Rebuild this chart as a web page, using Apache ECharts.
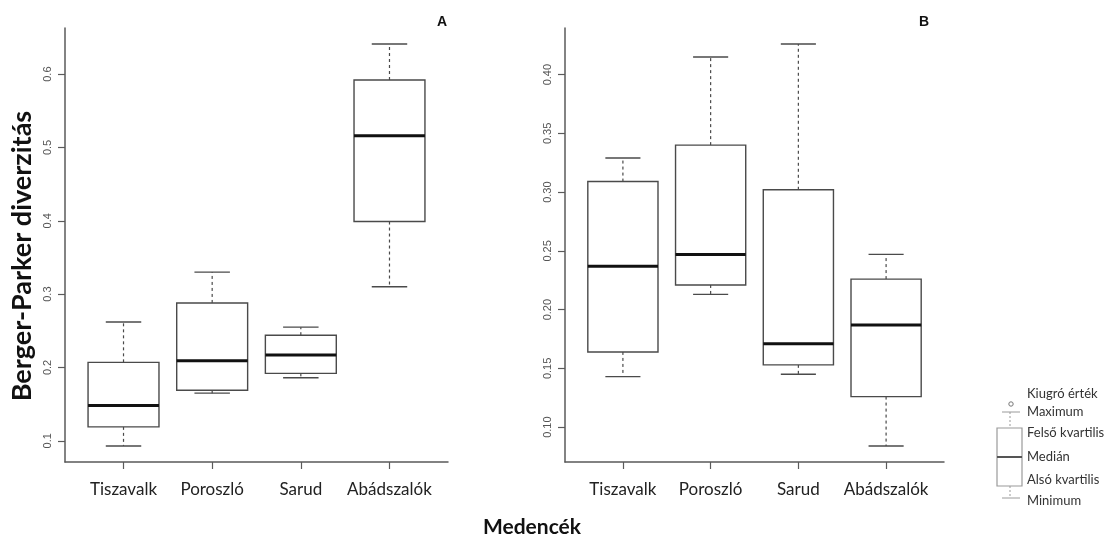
<!DOCTYPE html>
<html>
<head>
<meta charset="utf-8">
<script src="https://cdn.jsdelivr.net/npm/echarts@6/dist/echarts.min.js"></script>
<style>
  html, body { margin: 0; padding: 0; background: #fff; }
  #chart { width: 1106px; height: 537px; }
</style>
</head>
<body>
<div id="chart"></div>
<script>
// Basins (x categories)
const categories = ['Tiszavalk', 'Poroszló', 'Sarud', 'Abádszalók'];

// Panel A: Berger-Parker diversity five-number summaries [min, Q1, median, Q3, max]
const statsA = [
  [0.093, 0.119, 0.148, 0.207, 0.262],
  [0.165, 0.169, 0.209, 0.288, 0.330],
  [0.186, 0.192, 0.217, 0.244, 0.255],
  [0.310, 0.399, 0.516, 0.592, 0.641]
];

// Panel B: five-number summaries [min, Q1, median, Q3, max]
const statsB = [
  [0.143, 0.164, 0.237, 0.309, 0.329],
  [0.213, 0.221, 0.247, 0.340, 0.415],
  [0.145, 0.153, 0.171, 0.302, 0.426],
  [0.084, 0.126, 0.187, 0.226, 0.247]
];

// Tick values on the y axes
const ticksA = [0.1, 0.2, 0.3, 0.4, 0.5, 0.6];
const ticksB = [0.10, 0.15, 0.20, 0.25, 0.30, 0.35, 0.40];

// Legend entries for the box symbol
const legendLabels = ['Kiugró érték', 'Maximum', 'Felső kvartilis', 'Medián', 'Alsó kvartilis', 'Minimum'];

const positions = categories.map((_, i) => i + 1);

// R-style axis extent: data range padded by 4% on each side
function paddedRange(stats) {
  let lo = Infinity, hi = -Infinity;
  stats.forEach(s => { lo = Math.min(lo, s[0]); hi = Math.max(hi, s[4]); });
  const pad = (hi - lo) * 0.04;
  return [lo - pad, hi + pad];
}
const rangeA = paddedRange(statsA);
const rangeB = paddedRange(statsB);

const AXIS_COLOR = '#5a5a5a';
const BOX_COLOR = '#4a4a4a';

function renderBox(params, api) {
  const x = api.value(0);
  const mn = api.value(1), q1 = api.value(2), med = api.value(3), q3 = api.value(4), mx = api.value(5);
  const boxW = api.size([0.8, 0])[0];
  const half = boxW / 2;
  const capHalf = boxW / 4;
  const pMin = api.coord([x, mn]);
  const pQ1 = api.coord([x, q1]);
  const pMed = api.coord([x, med]);
  const pQ3 = api.coord([x, q3]);
  const pMax = api.coord([x, mx]);
  const cx = pMed[0];
  const thin = { stroke: BOX_COLOR, lineWidth: 1.4, fill: null };
  const dashed = { stroke: BOX_COLOR, lineWidth: 1.2, lineDash: [3, 3], fill: null };
  return {
    type: 'group',
    children: [
      { type: 'line', shape: { x1: cx, y1: pQ3[1], x2: cx, y2: pMax[1] }, style: dashed },
      { type: 'line', shape: { x1: cx, y1: pQ1[1], x2: cx, y2: pMin[1] }, style: dashed },
      { type: 'line', shape: { x1: cx - capHalf, y1: pMax[1], x2: cx + capHalf, y2: pMax[1] }, style: thin },
      { type: 'line', shape: { x1: cx - capHalf, y1: pMin[1], x2: cx + capHalf, y2: pMin[1] }, style: thin },
      { type: 'rect', shape: { x: cx - half, y: pQ3[1], width: boxW, height: pQ1[1] - pQ3[1] },
        style: { fill: '#fff', stroke: BOX_COLOR, lineWidth: 1.4 } },
      { type: 'line', shape: { x1: cx - half, y1: pMed[1], x2: cx + half, y2: pMed[1] },
        style: { stroke: '#111', lineWidth: 3 } }
    ]
  };
}

function xAxisFor(gridIndex) {
  return {
    type: 'value', gridIndex, min: 0.34, max: 4.66,
    axisLine: { show: true, lineStyle: { color: AXIS_COLOR, width: 1.5 } },
    axisTick: { show: true, length: 7, customValues: positions, lineStyle: { color: AXIS_COLOR, width: 1.2 } },
    axisLabel: {
      customValues: positions, margin: 19,
      formatter: v => categories[Math.round(v) - 1],
      fontFamily: 'Lato', fontSize: 17, color: '#222'
    },
    splitLine: { show: false }
  };
}

function yAxisFor(gridIndex, range, ticks, digits) {
  return {
    type: 'value', gridIndex, min: range[0], max: range[1],
    axisLine: { show: true, lineStyle: { color: AXIS_COLOR, width: 1.5 } },
    axisTick: { show: true, length: 7, customValues: ticks, lineStyle: { color: AXIS_COLOR, width: 1.2 } },
    axisLabel: {
      customValues: ticks, rotate: 90, margin: 12,
      formatter: v => Number(v).toFixed(digits),
      fontFamily: 'Liberation Sans', fontSize: 11, color: '#555'
    },
    splitLine: { show: false }
  };
}

// Legend symbol drawn as a small box glyph
const LG = '#9a9a9a';
const legendYs = [394, 412, 433, 457, 480, 501];
const legendGraphics = [
  { type: 'circle', shape: { cx: 1011, cy: 404, r: 2.2 }, style: { fill: null, stroke: '#777', lineWidth: 1 } },
  { type: 'line', shape: { x1: 1002, y1: 412, x2: 1020, y2: 412 }, style: { stroke: LG, lineWidth: 1 } },
  { type: 'line', shape: { x1: 1010, y1: 412, x2: 1010, y2: 428 }, style: { stroke: LG, lineWidth: 1, lineDash: [2, 2] } },
  { type: 'rect', shape: { x: 997, y: 428, width: 25, height: 58 }, style: { fill: '#fff', stroke: LG, lineWidth: 1.2 } },
  { type: 'line', shape: { x1: 997, y1: 457, x2: 1022, y2: 457 }, style: { stroke: '#555', lineWidth: 2 } },
  { type: 'line', shape: { x1: 1010, y1: 486, x2: 1010, y2: 498 }, style: { stroke: LG, lineWidth: 1, lineDash: [2, 2] } },
  { type: 'line', shape: { x1: 1002, y1: 498, x2: 1020, y2: 498 }, style: { stroke: LG, lineWidth: 1 } }
].concat(legendLabels.map((t, i) => ({
  type: 'text', x: 1027, y: legendYs[i],
  style: { text: t, fontFamily: 'Lato', fontSize: 13, fill: '#333', verticalAlign: 'middle', align: 'left' }
})));

const chart = echarts.init(document.getElementById('chart'), null, { renderer: 'canvas' });
chart.setOption({
  animation: false,
  backgroundColor: '#fff',
  title: [
    { text: 'A', left: 432, top: 10, textStyle: { fontFamily: 'Liberation Sans', fontSize: 14, fontWeight: 'bold', color: '#111' } },
    { text: 'B', left: 914, top: 10, textStyle: { fontFamily: 'Liberation Sans', fontSize: 14, fontWeight: 'bold', color: '#111' } }
  ],
  grid: [
    { left: 65, top: 28, width: 383, height: 434 },
    { left: 565, top: 28, width: 379, height: 434 }
  ],
  xAxis: [xAxisFor(0), xAxisFor(1)],
  yAxis: [yAxisFor(0, rangeA, ticksA, 1), yAxisFor(1, rangeB, ticksB, 2)],
  series: [
    {
      type: 'custom', name: 'A', xAxisIndex: 0, yAxisIndex: 0,
      renderItem: renderBox,
      encode: { x: 0, y: [1, 2, 3, 4, 5] },
      data: statsA.map((s, i) => [positions[i]].concat(s))
    },
    {
      type: 'custom', name: 'B', xAxisIndex: 1, yAxisIndex: 1,
      renderItem: renderBox,
      encode: { x: 0, y: [1, 2, 3, 4, 5] },
      data: statsB.map((s, i) => [positions[i]].concat(s))
    }
  ],
  graphic: [
    {
      type: 'text', x: 22, y: 256, rotation: Math.PI / 2,
      style: { text: 'Berger-Parker diverzitás', fontFamily: 'Lato', fontSize: 27, fontWeight: 'bold', fill: '#111', align: 'center', verticalAlign: 'middle' }
    },
    {
      type: 'text', x: 532, y: 527,
      style: { text: 'Medencék', fontFamily: 'Lato', fontSize: 21, fontWeight: 'bold', fill: '#111', align: 'center', verticalAlign: 'middle' }
    }
  ].concat(legendGraphics)
});
</script>
</body>
</html>
